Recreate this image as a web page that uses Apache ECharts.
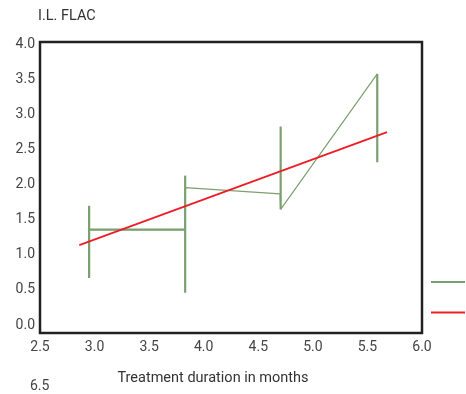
<!DOCTYPE html>
<html>
<head>
<meta charset="utf-8">
<script src="https://cdn.jsdelivr.net/npm/echarts@6/dist/echarts.min.js"></script>
<style>html,body{margin:0;padding:0;background:#fff}#c{width:466px;height:394px}</style>
</head>
<body>
<div id="c"></div>
<script>
// ---- data ----
const yTitle = 'I.L. FLAC';
const xTitle = 'Treatment duration in months';
const strayTick = '6.5';
const seriesNames = ['I.L. FLAC', 'Trend'];
// green observed path
const greenX = [2.95, 3.83, 3.83, 4.70, 4.705, 5.59];
const greenY = [1.36, 1.36, 1.96, 1.87, 1.65, 3.58];
// error bars (vertical)
const barX = [2.95, 3.83, 4.705, 5.59];
const barLow = [0.67, 0.46, 1.65, 2.32];
const barHigh = [1.70, 2.13, 2.83, 3.58];
// thick horizontal segment
const flatX = [2.95, 3.83];
const flatY = [1.36, 1.36];
// red trend line
const trendX = [2.86, 5.68];
const trendY = [1.14, 2.75];

const GREEN = '#7ba06f';
const RED = '#ee1c24';
const FONT = 'Roboto';

const segs = [];
for (let i = 0; i < barX.length; i++) segs.push([barX[i], barLow[i], barX[i], barHigh[i]]);
segs.push([flatX[0], flatY[0], flatX[1], flatY[1]]);

const chart = echarts.init(document.getElementById('c'), null, {renderer: 'canvas'});
chart.setOption({
  animation: false,
  backgroundColor: '#fff',
  title: {text: yTitle, left: 33, top: 4, textStyle: {fontFamily: FONT, fontSize: 14.5, fontWeight: 'normal', color: '#333'}},
  grid: [
    {left: 40, right: 44, top: 44.5, bottom: 69},
    {left: 40, right: 44, top: 42, bottom: 61, show: true, borderColor: '#222', borderWidth: 2.5, backgroundColor: 'transparent'}
  ],
  xAxis: [
    {gridIndex: 0, type: 'value', min: 2.5, max: 6, show: false, splitLine: {show: false}},
    {gridIndex: 1, type: 'value', min: 2.5, max: 6, interval: 0.5,
      axisLine: {show: false}, axisTick: {show: false}, splitLine: {show: false},
      axisLabel: {margin: 7, fontFamily: FONT, fontSize: 14, color: '#444', formatter: v => v.toFixed(1)},
      name: xTitle, nameLocation: 'middle', nameGap: 38,
      nameTextStyle: {fontFamily: FONT, fontSize: 14.5, color: '#333', padding: [0, 36, 0, 0]}}
  ],
  yAxis: [
    {gridIndex: 0, type: 'value', min: 0, max: 4, interval: 0.5,
      axisLine: {show: false}, axisTick: {show: false}, splitLine: {show: false},
      axisLabel: {margin: 5, fontFamily: FONT, fontSize: 14, color: '#444', formatter: v => v.toFixed(1)}},
    {gridIndex: 1, type: 'value', min: 0, max: 4, show: false, splitLine: {show: false}}
  ],
  legend: {
    data: seriesNames, orient: 'vertical', right: 0, top: 275, padding: 0,
    itemWidth: 34, itemHeight: 14, itemGap: 18,
    formatter: () => '',
    itemStyle: {opacity: 0},
    textStyle: {fontFamily: FONT, fontSize: 12, color: '#333'},
    lineStyle: {width: 2}
  },
  graphic: [
    {type: 'text', left: 30, top: 379, style: {text: strayTick, font: '14px Roboto', fill: '#444'}}
  ],
  series: [
    {name: seriesNames[0], type: 'line', xAxisIndex: 0, yAxisIndex: 0, symbol: 'none',
      data: greenX.map((x, i) => [x, greenY[i]]),
      lineStyle: {color: GREEN, width: 1.2}, itemStyle: {color: GREEN}, z: 3},
    {name: 'errbars', type: 'custom', xAxisIndex: 0, yAxisIndex: 0, data: segs,
      renderItem: function (params, api) {
        const p1 = api.coord([api.value(0), api.value(1)]);
        const p2 = api.coord([api.value(2), api.value(3)]);
        return {type: 'line', shape: {x1: p1[0], y1: p1[1], x2: p2[0], y2: p2[1]},
          style: {stroke: GREEN, lineWidth: 2.2}};
      }, z: 3},
    {name: seriesNames[1], type: 'line', xAxisIndex: 0, yAxisIndex: 0, symbol: 'none',
      data: trendX.map((x, i) => [x, trendY[i]]),
      lineStyle: {color: RED, width: 1.8}, itemStyle: {color: RED}, z: 4}
  ]
});
</script>
</body>
</html>
